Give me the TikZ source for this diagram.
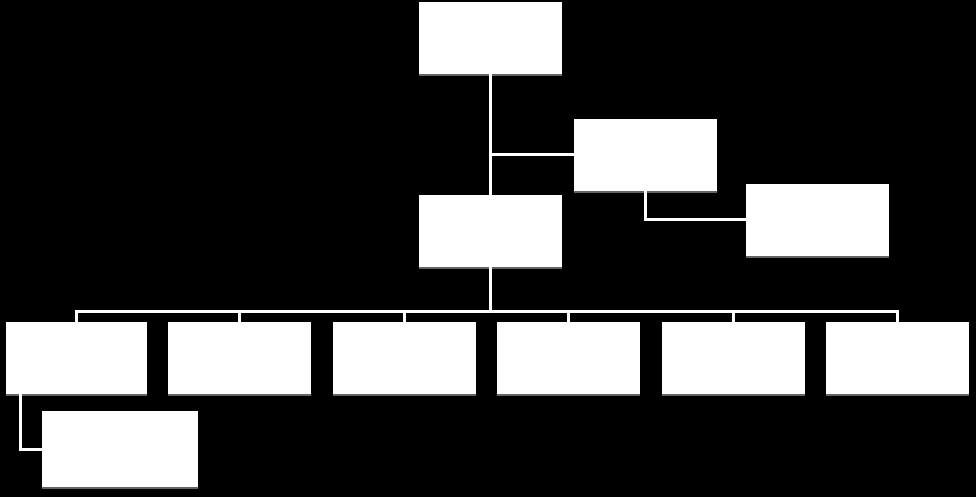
\documentclass[tikz,border=0pt]{standalone}
\usetikzlibrary{shadows,calc}
\begin{document}
\begin{tikzpicture}[x=1pt,y=-1pt,
  box/.style={fill=white, draw=none, inner sep=0pt, outer sep=0pt,
    minimum width=143pt, minimum height=72pt,
    drop shadow={shadow xshift=0pt, shadow yshift=-2pt, fill=gray!70, opacity=0.6}},
  link/.style={draw=white, line width=3pt}]
\fill[black] (0,0) rectangle (976,497);
\useasboundingbox (0,0) rectangle (976,497);
% top part
\node[box] (top) at (490.5,38) {};
\node[box] (mid) at (490.5,230.5) {};
\node[box] (r1) at (645.5,155) {};
\node[box] (r2) at (817.5,219.5) {};
% bottom row
\node[box, minimum width=141pt] (b1) at (76.5,358) {};
\node[box] (b2) at (239.5,358) {};
\node[box] (b3) at (404.5,358) {};
\node[box] (b4) at (568.5,358) {};
\node[box] (b5) at (733.5,358) {};
\node[box] (b6) at (897.5,358) {};
\node[box, minimum width=156pt, minimum height=76pt] (s1) at (120,449) {};
% connectors
\coordinate (bus) at (490.5,311);
\draw[link] (top.south) -- (mid.north);
\draw[link] (r1.west) -- (r1.west -| top.south);
\draw[link] (r1.south) |- (r2.west);
\draw[link] (mid.south) -- (mid.south |- bus);
\draw[link, line cap=rect] (b1.north |- bus) -- (b6.north |- bus);
\foreach \n in {b1,b2,b3,b4,b5,b6}{
  \draw[link] (\n.north |- bus) -- (\n.north);
}
\draw[link] ([xshift=14pt]b1.south west) |- (s1.west);
\end{tikzpicture}
\end{document}
